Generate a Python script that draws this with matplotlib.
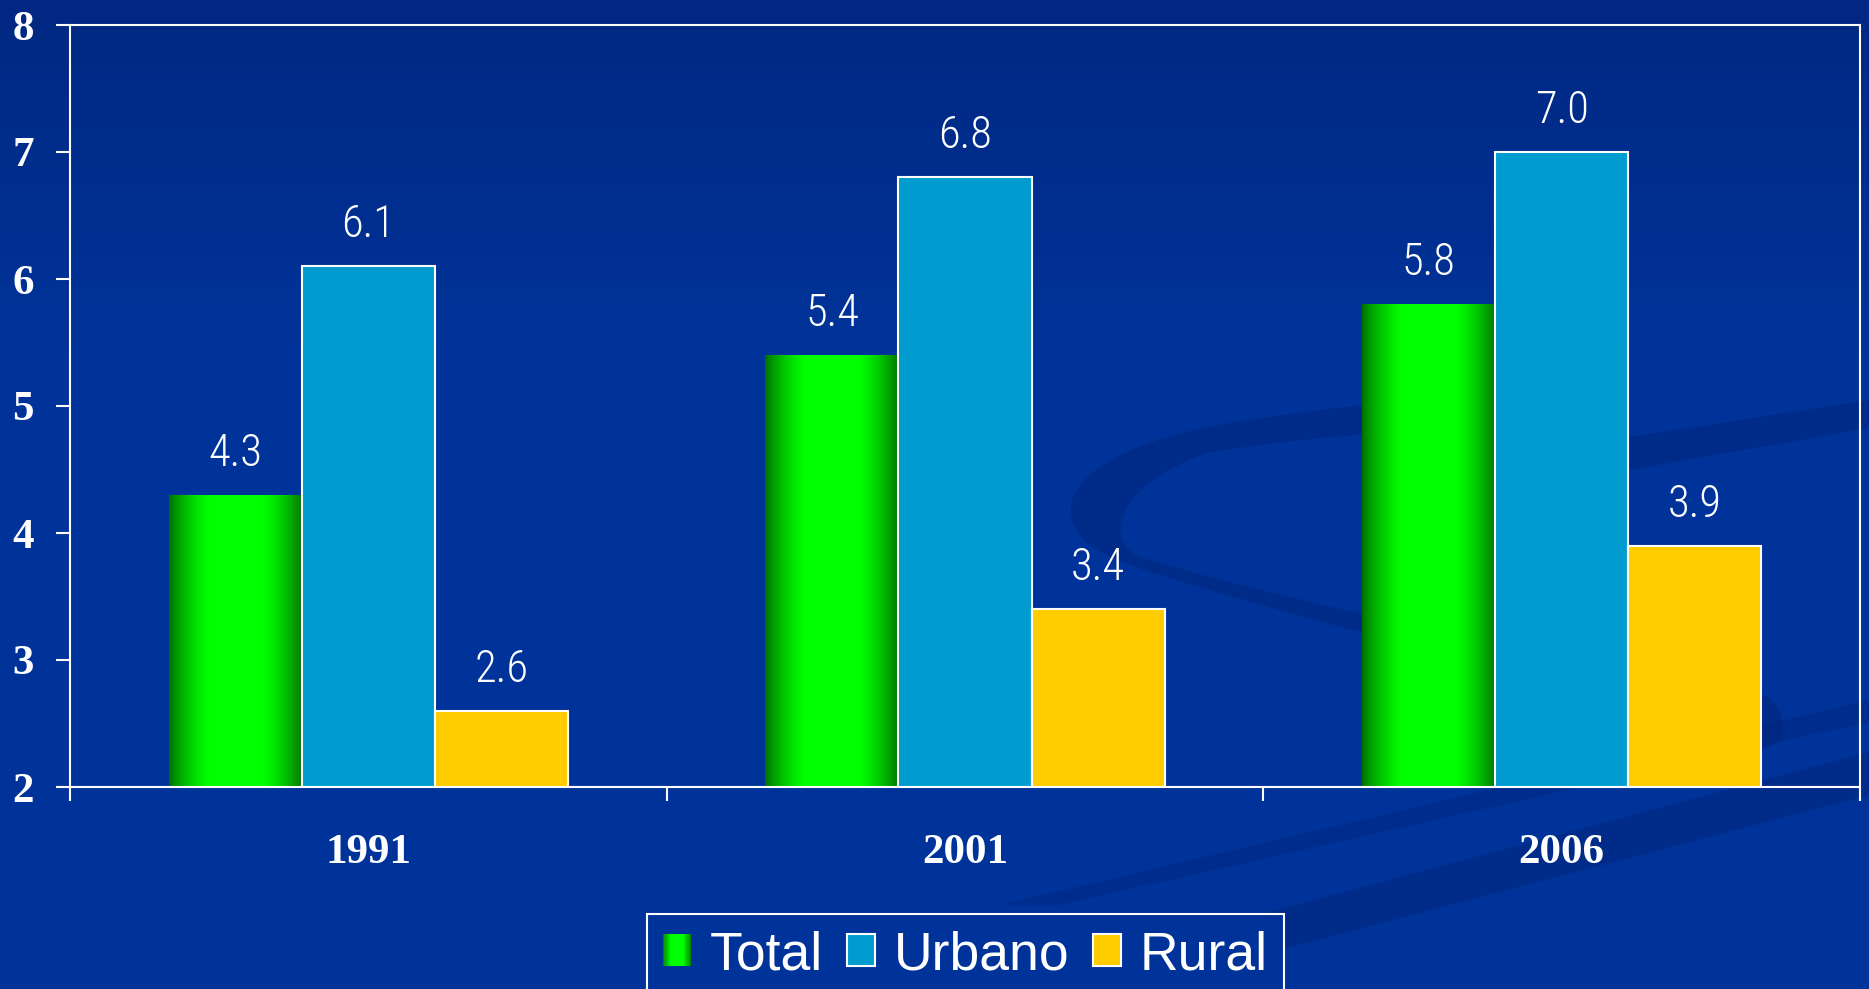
import numpy as np
import matplotlib
matplotlib.use('Agg')
import matplotlib.pyplot as plt
from matplotlib import font_manager as fm
from matplotlib.font_manager import FontProperties
from matplotlib.patches import Rectangle, PathPatch
from matplotlib.path import Path
from matplotlib.legend_handler import HandlerBase

# ---------------- data ----------------
years = ['1991', '2001', '2006']
series = ['Total', 'Urbano', 'Rural']
total = [4.3, 5.4, 5.8]
urbano = [6.1, 6.8, 7.0]
rural = [2.6, 3.4, 3.9]
yticks = [2, 3, 4, 5, 6, 7, 8]

# ---------------- styles ----------------
BG = (0 / 255, 51 / 255, 153 / 255)
BLUE = '#009BCF'
YELLOW = '#FFCC00'
ttf = fm.fontManager.ttflist
names = {f.name for f in ttf}
if 'Liberation Sans Narrow' in names:
    label_font = FontProperties(family='Liberation Sans Narrow', size=32)
elif 'Roboto Condensed' in names:
    label_font = FontProperties(family='Roboto Condensed', weight='light', size=32)
elif any(f.name == 'DejaVu Sans' and f.stretch == 'condensed' for f in ttf):
    label_font = FontProperties(family='DejaVu Sans', stretch='condensed', weight='light', size=31)
else:
    label_font = FontProperties(family='Roboto', weight='light', size=31)
serif_bold = FontProperties(family='Liberation Serif', weight='bold', size=31)


def green_profile(t):
    return 0.43 + 0.57 * np.clip(np.sin(np.pi * t) * 1.25, 0, 1) ** 0.8


W, H = 1869, 989
fig = plt.figure(figsize=(W / 100, H / 100), dpi=100)

# ---------------- background ----------------
bg = fig.add_axes([0, 0, 1, 1])
bg.set_xlim(0, W)
bg.set_ylim(H, 0)
bg.axis('off')
yy = np.linspace(0, 1, 300)
top = np.array([0, 40, 130]) / 255
mid = np.array(BG)
f = np.clip(yy / 0.35, 0, 1)[:, None]
grad = top * (1 - f) + mid * f
bg.imshow(grad[:, None, :], extent=[0, W, H, 0], aspect='auto', zorder=0)

swoosh_col = (0 / 255, 36 / 255, 120 / 255)
loop = [(1520, 398),
        (1430, 395), (1300, 410), (1207, 427),
        (1120, 445), (1060, 480), (1072, 520),
        (1080, 545), (1100, 555), (1150, 572),
        (1400, 650), (1650, 700), (1740, 745),
        (1790, 765), (1800, 700), (1750, 690),
        (1600, 660), (1350, 620), (1140, 557),
        (1110, 545), (1105, 490), (1207, 453),
        (1300, 437), (1420, 428), (1520, 430),
        (1520, 398)]
codes = [Path.MOVETO] + [Path.CURVE4] * 24 + [Path.CLOSEPOLY]
bg.add_patch(PathPatch(Path(loop, codes), facecolor=swoosh_col, edgecolor='none',
                       alpha=0.5, zorder=1))
for (pts, a) in [([(1500, 452), (1630, 437), (1869, 400), (1869, 428), (1630, 470), (1500, 487)], 0.5),
                 ([(980, 989), (1869, 752), (1869, 795), (1130, 989)], 0.5),
                 ([(1000, 905), (1869, 700), (1869, 722), (1060, 905)], 0.35)]:
    bg.add_patch(plt.Polygon(pts, closed=True, facecolor=swoosh_col, edgecolor='none',
                             alpha=a, zorder=1))

# ---------------- main axes ----------------
ax = fig.add_axes([70 / W, 1 - 787 / H, (1860 - 70) / W, (787 - 25) / H])
ax.set_facecolor('none')
x = np.arange(len(years))
w = 0.223
base = yticks[0]

b_tot = ax.bar(x - w, np.array(total) - base, w, bottom=base, color=(0, 1, 0),
               edgecolor='none', zorder=2)
b_urb = ax.bar(x, np.array(urbano) - base, w, bottom=base, color=BLUE,
               edgecolor='white', linewidth=1.5, zorder=3)
b_rur = ax.bar(x + w, np.array(rural) - base, w, bottom=base, color=YELLOW,
               edgecolor='white', linewidth=1.5, zorder=3)

t = np.linspace(0, 1, 200)
gcol = np.zeros((1, 200, 3))
gcol[0, :, 1] = green_profile(t)
for p in b_tot.patches:
    x0, y0, wd, ht = p.get_x(), p.get_y(), p.get_width(), p.get_height()
    im = ax.imshow(gcol, extent=[x0, x0 + wd, y0, y0 + ht], aspect='auto', zorder=2.5,
                   interpolation='bilinear')
    im.set_clip_path(p)

for bars, vals in [(b_tot, total), (b_urb, urbano), (b_rur, rural)]:
    for p, v in zip(bars.patches, vals):
        ax.annotate(f'{v:.1f}', (p.get_x() + p.get_width() / 2, v), xytext=(0, 21),
                    textcoords='offset points', ha='center', va='baseline',
                    color='white', fontproperties=label_font, zorder=5)

ax.set_xlim(-0.5, len(years) - 0.5)
ax.set_ylim(yticks[0], yticks[-1])
ax.set_yticks(yticks)
ax.set_yticklabels([str(v) for v in yticks])
ax.set_xticks(np.arange(len(years) + 1) - 0.5)
ax.set_xticklabels([])
ax.set_xticks(x, minor=True)
ax.set_xticklabels(years, minor=True)
for lab in ax.get_yticklabels() + ax.get_xticklabels(minor=True):
    lab.set_fontproperties(serif_bold)
    lab.set_color('white')
ax.tick_params(axis='y', direction='out', length=10, width=1.5, color='white', pad=16)
ax.tick_params(axis='x', which='major', direction='out', length=10, width=1.5, color='white')
ax.tick_params(axis='x', which='minor', length=0, pad=34)
for s in ax.spines.values():
    s.set_color('white')
    s.set_linewidth(1.5)


# ---------------- legend ----------------
class GradHandler(HandlerBase):
    def create_artists(self, legend, orig_handle, xdescent, ydescent, width, height,
                       fontsize, trans):
        n = 24
        arts = []
        for i in range(n):
            tt = (i + 0.5) / n
            arts.append(Rectangle((-xdescent + i * width / n, -ydescent), width / n * 1.05,
                                  height, facecolor=(0, green_profile(tt), 0),
                                  edgecolor='none', transform=trans))
        return arts


h_tot = Rectangle((0, 0), 1, 1, facecolor=(0, 1, 0))
h_urb = Rectangle((0, 0), 1, 1, facecolor=BLUE, edgecolor='white', linewidth=1.5)
h_rur = Rectangle((0, 0), 1, 1, facecolor=YELLOW, edgecolor='white', linewidth=1.5)
leg = fig.legend([h_tot, h_urb, h_rur], series, loc='upper left',
                 bbox_to_anchor=(647 / W, 1 - 914 / H), ncol=3, frameon=True,
                 fancybox=False, edgecolor='white', facecolor=BG, framealpha=1,
                 prop=FontProperties(family='Liberation Sans', size=38.5),
                 handlelength=0.52, handleheight=0.52, handletextpad=0.35,
                 columnspacing=0.45, borderpad=0.3, borderaxespad=0,
                 labelcolor='white', handler_map={h_tot: GradHandler()})
leg.get_frame().set_linewidth(1.5)

fig.savefig('out.png', dpi=100)
